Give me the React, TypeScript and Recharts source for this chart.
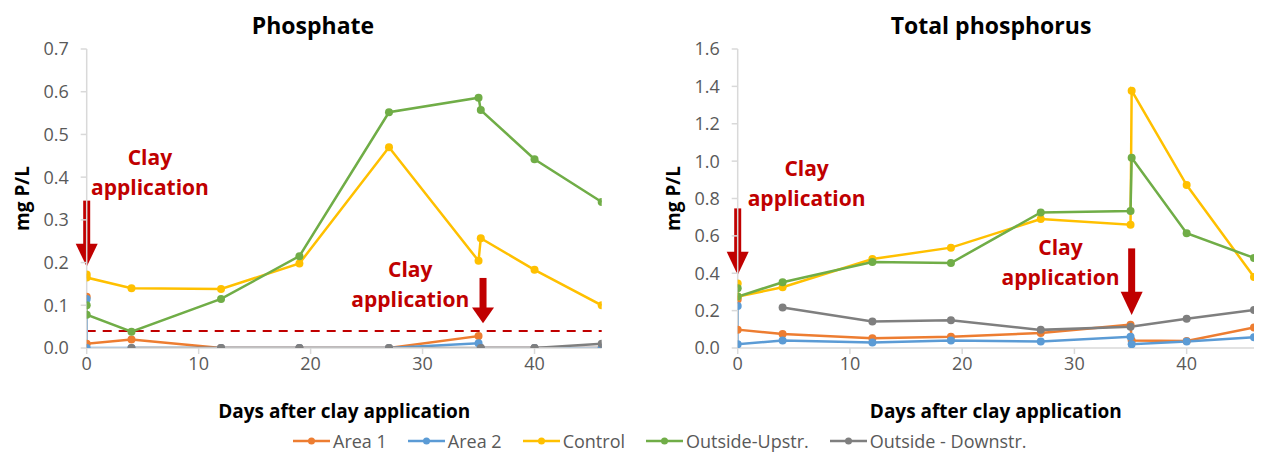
import { Line, LineChart, ReferenceDot, ReferenceLine, XAxis, YAxis } from "recharts";

const FONT = "'Open Sans', Lato, sans-serif";
const RED = "#c00000";
const AXIS = "#d9d9d9";
const TICK = "#595959";

const seriesNames = ["Area 1", "Area 2", "Control", "Outside-Upstr.", "Outside - Downstr."];
const seriesColors = ["#ed7d31", "#5b9bd5", "#ffc000", "#70ad47", "#7f7f7f"];
const dayTicks = [0, 10, 20, 30, 40];

// Phosphate (mg P/L)
const phDays = [0, 0, 4, 12, 19, 27, 35, 35.2, 40, 46];
const phDaysDown = [4, 12, 19, 27, 35.2, 40, 46];
const phArea1 = [0.12, 0.01, 0.02, 0, 0, 0, 0.028, 0, 0, 0];
const phArea2 = [0.115, 0, 0, 0, 0, 0, 0.011, 0, 0, 0];
const phControl = [0.172, 0.165, 0.14, 0.138, 0.198, 0.47, 0.204, 0.257, 0.183, 0.1];
const phUpstr = [0.1, 0.078, 0.038, 0.115, 0.215, 0.552, 0.586, 0.557, 0.442, 0.342];
const phDownstr = [0, 0, 0, 0, 0, 0, 0.01];
const phTicks = [0, 0.1, 0.2, 0.3, 0.4, 0.5, 0.6, 0.7];

// Total phosphorus (mg P/L)
const tpDays = [0, 0, 4, 12, 19, 27, 35, 35.1, 40, 46];
const tpDaysDown = [4, 12, 19, 27, 35, 40, 46];
const tpArea1 = [0.26, 0.098, 0.075, 0.052, 0.06, 0.08, 0.125, 0.04, 0.038, 0.11];
const tpArea2 = [0.225, 0.02, 0.04, 0.03, 0.04, 0.035, 0.06, 0.02, 0.035, 0.057];
const tpControl = [0.345, 0.275, 0.325, 0.476, 0.537, 0.69, 0.66, 1.377, 0.872, 0.38];
const tpUpstr = [0.32, 0.275, 0.352, 0.46, 0.455, 0.725, 0.733, 1.018, 0.614, 0.482];
const tpDownstr = [0.217, 0.142, 0.148, 0.097, 0.114, 0.156, 0.203];
const tpTicks = [0, 0.2, 0.4, 0.6, 0.8, 1.0, 1.2, 1.4, 1.6];

const zip = (xs: number[], ys: number[]) => xs.map((x, i) => ({ x, y: ys[i] }));

interface Note {
  x: number;
  top: number;
  tip: number;
  textX: number;
  textY: number;
}

const phNotes: Note[] = [
  { x: 0, top: 0.345, tip: 0.19, textX: 5.65, textY: 0.413 },
  { x: 35.4, top: 0.164, tip: 0.058, textX: 28.9, textY: 0.149 },
];
const tpNotes: Note[] = [
  { x: 0, top: 0.747, tip: 0.39, textX: 6.14, textY: 0.883 },
  { x: 35.1, top: 0.533, tip: 0.177, textX: 28.76, textY: 0.46 },
];

function Arrow(props: any) {
  const { x1, y1, y2 } = props;
  const headLen = (y2 - y1) * 0.35;
  const headY = y2 - headLen;
  return (
    <g>
      <rect x={x1 - 3.5} y={y1} width={7} height={headY - y1 + 1} fill={RED} />
      <polygon points={`${x1 - 11},${headY} ${x1 + 11},${headY} ${x1},${y2}`} fill={RED} />
    </g>
  );
}

function NoteText(props: any) {
  const { cx, cy } = props;
  return (
    <text
      x={cx}
      y={cy}
      textAnchor="middle"
      fill={RED}
      fontFamily={FONT}
      fontWeight="bold"
      fontSize={21}
    >
      <tspan x={cx} dy={-7}>Clay</tspan>
      <tspan x={cx} dy={30}>application</tspan>
    </text>
  );
}

interface PanelProps {
  left: number;
  title: string;
  titleX: number;
  yAxisWidth: number;
  yLabelX: number;
  right: number;
  yMax: number;
  yTicks: number[];
  series: { x: number; y: number }[][];
  notes: Note[];
  threshold?: number;
}

function Panel(p: PanelProps) {
  return (
    <div style={{ position: "absolute", left: p.left, top: 0, width: 634, height: 425 }}>
      <div
        style={{
          position: "absolute",
          left: p.titleX - 200,
          width: 400,
          top: 14,
          lineHeight: 1,
          textAlign: "center",
          fontFamily: FONT,
          fontWeight: "bold",
          fontSize: 23,
          color: "#000",
        }}
      >
        {p.title}
      </div>
      <LineChart
        width={634}
        height={425}
        margin={{ top: 49, right: p.right, left: 0, bottom: 0 }}
        style={{ fontFamily: FONT }}
      >
        <XAxis
          type="number"
          dataKey="x"
          domain={[0, 46]}
          ticks={dayTicks}
          allowDataOverflow
          height={77}
          axisLine={{ stroke: AXIS, strokeWidth: 1.5 }}
          tickLine={{ stroke: AXIS, strokeWidth: 1.5 }}
          tickSize={6}
          tickMargin={3}
          tick={{ fill: TICK, fontSize: 18, fontFamily: FONT }}
          label={{
            value: "Days after clay application",
            position: "insideBottom",
            offset: 7,
            fill: "#000",
            fontWeight: "bold",
            fontSize: 19,
            fontFamily: FONT,
          }}
        />
        <YAxis
          type="number"
          domain={[0, p.yMax]}
          ticks={p.yTicks}
          width={p.yAxisWidth}
          allowDataOverflow
          axisLine={{ stroke: AXIS, strokeWidth: 1.5 }}
          tickLine={{ stroke: AXIS, strokeWidth: 1.5 }}
          tickSize={6}
          tickMargin={12}
          tickFormatter={(v: number) => v.toFixed(1)}
          tick={{ fill: TICK, fontSize: 18, fontFamily: FONT }}
          label={{
            value: "mg  P/L",
            angle: -90,
            position: "insideLeft",
            offset: p.yLabelX,
            fill: "#000",
            fontWeight: "bold",
            fontSize: 19,
            fontFamily: FONT,
            style: { textAnchor: "middle" },
          }}
        />
        {p.threshold !== undefined && (
          <ReferenceLine y={p.threshold} stroke={RED} strokeWidth={2} strokeDasharray="9 7" />
        )}
        {p.series.map((data, i) => (
          <Line
            key={seriesNames[i]}
            data={data}
            dataKey="y"
            name={seriesNames[i]}
            type="linear"
            stroke={seriesColors[i]}
            strokeWidth={2.5}
            dot={{ r: 4, fill: seriesColors[i], stroke: seriesColors[i], strokeWidth: 0 }}
            activeDot={false}
            isAnimationActive={false}
          />
        ))}
        {p.notes.map((n, i) => (
          <ReferenceLine
            key={`a${i}`}
            segment={[
              { x: n.x, y: n.top },
              { x: n.x, y: n.tip },
            ]}
            ifOverflow="visible"
            shape={Arrow}
          />
        ))}
        {p.notes.map((n, i) => (
          <ReferenceDot
            key={`t${i}`}
            x={n.textX}
            y={n.textY}
            r={0}
            ifOverflow="visible"
            shape={NoteText}
          />
        ))}
      </LineChart>
    </div>
  );
}

function Legend() {
  return (
    <div
      style={{
        position: "absolute",
        left: 293,
        top: 431,
        height: 20,
        lineHeight: "20px",
        display: "flex",
        alignItems: "center",
        fontFamily: FONT,
        fontSize: 18,
        color: TICK,
        whiteSpace: "nowrap",
      }}
    >
      {seriesNames.map((name, i) => (
        <div key={name} style={{ display: "flex", alignItems: "center", marginRight: 21 }}>
          <svg width={37} height={10} style={{ marginRight: 3 }}>
            <line x1={0} y1={5} x2={37} y2={5} stroke={seriesColors[i]} strokeWidth={2.5} />
            <circle cx={18.5} cy={5} r={3.5} fill={seriesColors[i]} />
          </svg>
          <span>{name}</span>
        </div>
      ))}
    </div>
  );
}

export default function App() {
  const phSeries = [
    zip(phDays, phArea1),
    zip(phDays, phArea2),
    zip(phDays, phControl),
    zip(phDays, phUpstr),
    zip(phDaysDown, phDownstr),
  ];
  const tpSeries = [
    zip(tpDays, tpArea1),
    zip(tpDays, tpArea2),
    zip(tpDays, tpControl),
    zip(tpDays, tpUpstr),
    zip(tpDaysDown, tpDownstr),
  ];
  return (
    <div
      style={{
        position: "absolute",
        left: 0,
        top: 0,
        width: 1268,
        height: 454,
        background: "#fff",
        overflow: "hidden",
      }}
    >
      <Panel
        left={0}
        title="Phosphate"
        titleX={313}
        yAxisWidth={86.7}
        yLabelX={22}
        right={32.3}
        yMax={0.7}
        yTicks={phTicks}
        series={phSeries}
        notes={phNotes}
        threshold={0.04}
      />
      <Panel
        left={634}
        title="Total phosphorus"
        titleX={357}
        yAxisWidth={103.7}
        yLabelX={39}
        right={14}
        yMax={1.6}
        yTicks={tpTicks}
        series={tpSeries}
        notes={tpNotes}
      />
      <Legend />
    </div>
  );
}
